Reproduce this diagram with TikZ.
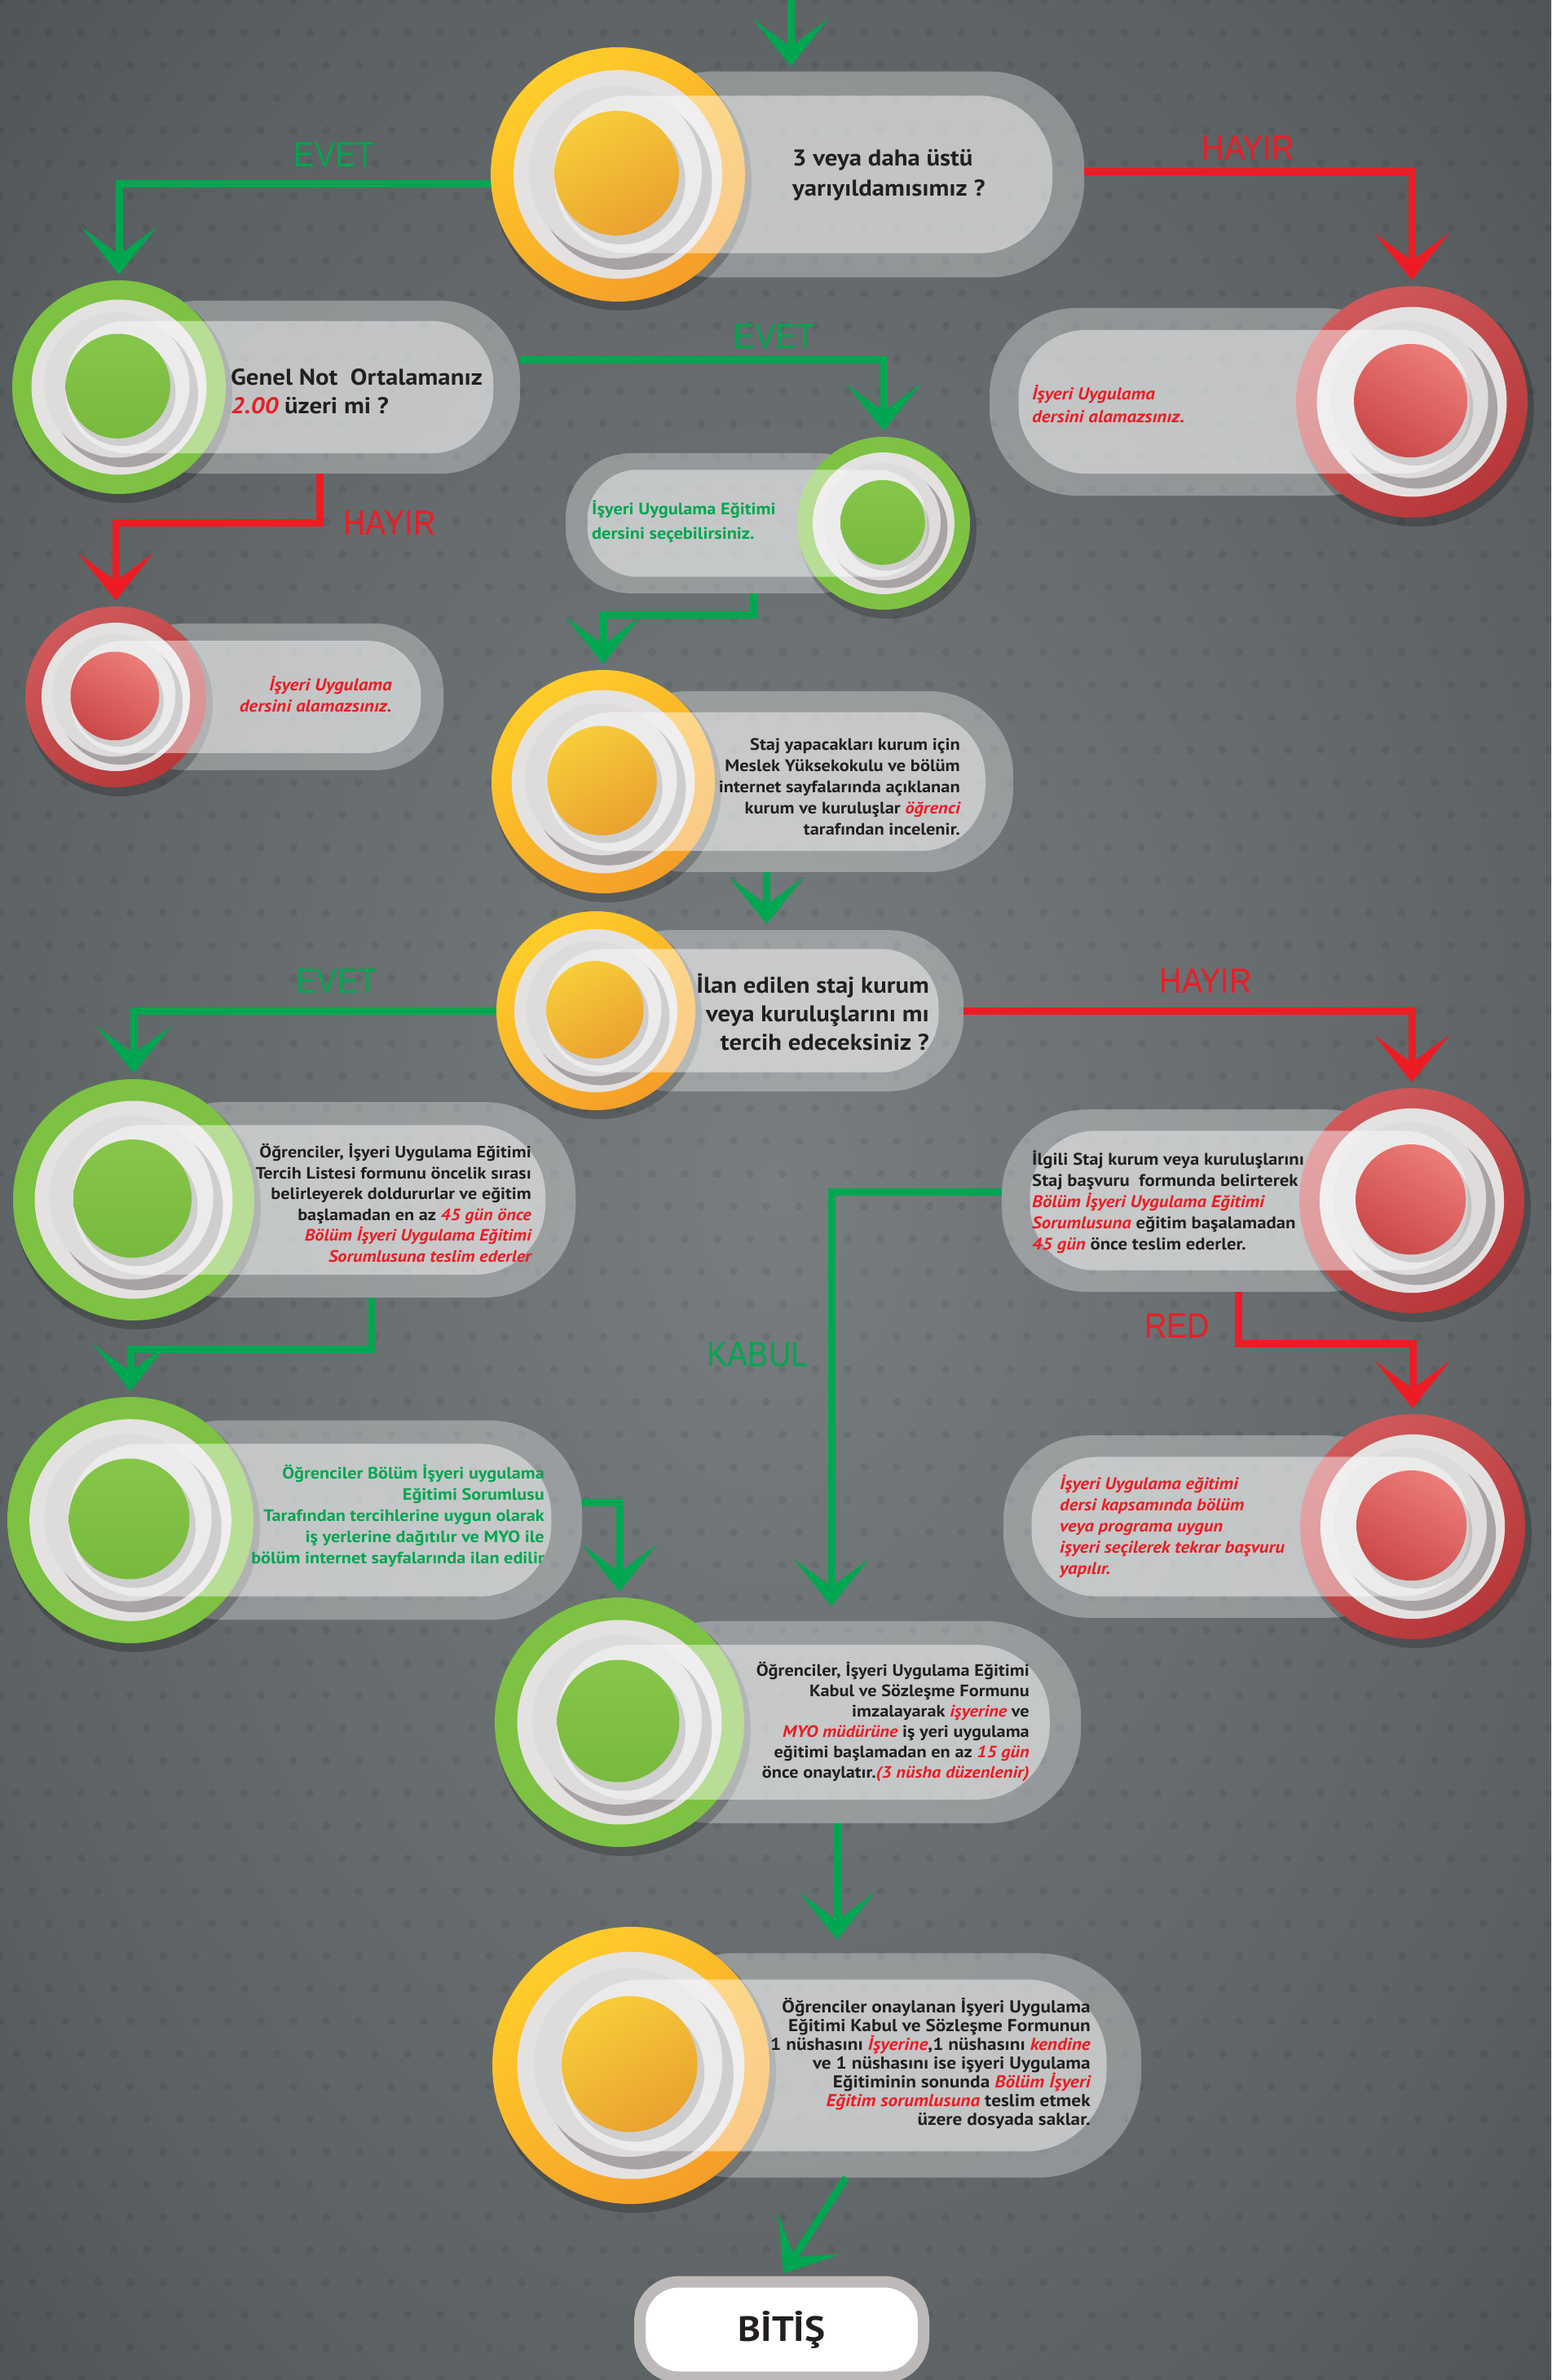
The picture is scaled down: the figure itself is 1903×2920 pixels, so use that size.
\documentclass[tikz,border=0pt]{standalone}
\usepackage{fontspec}
\setmainfont{PT Sans}[FakeStretch=1.1]
\newfontfamily\etiketfont[FakeStretch=0.88]{Liberation Sans}
\usetikzlibrary{arrows.meta}

\definecolor{cArka1}{RGB}{120,126,128}
\definecolor{cArka2}{RGB}{56,61,63}
\definecolor{cYesil}{RGB}{0,166,81}
\definecolor{cKirmizi}{RGB}{237,28,36}
\definecolor{cMetin}{RGB}{35,31,32}
\definecolor{cSari1}{RGB}{255,205,42}
\definecolor{cSari2}{RGB}{245,158,40}
\definecolor{cYesilH}{RGB}{125,194,66}
\definecolor{cKirmiziH}{RGB}{198,60,62}
\definecolor{cSariD}{RGB}{248,204,58}
\definecolor{cSariD2}{RGB}{233,162,46}
\definecolor{cYesilD}{RGB}{134,198,74}
\definecolor{cYesilD2}{RGB}{120,186,62}
\definecolor{cKirmiziD}{RGB}{236,124,120}
\definecolor{cKirmiziD2}{RGB}{202,72,72}
\definecolor{cBeyaz}{RGB}{228,225,225}
\definecolor{cBeyaz2}{RGB}{222,219,219}
\definecolor{cGolge}{RGB}{168,164,164}
\definecolor{cGri}{RGB}{190,185,185}

\pgfdeclareradialshading{zemin}{\pgfpoint{0bp}{0bp}}{color(0bp)=(cArka1); color(28bp)=(cArka1!55!cArka2); color(50bp)=(cArka2)}

\newcommand\kir[1]{{\color{cKirmizi}\itshape #1}}
\newcommand\yazi[2]{\fontsize{#1}{#2}\selectfont\bfseries}

% #1 ad, #2 x, #3 y, #4 yaricap, #5 kutunun ucu, #6 renk
\newcommand\dugme[6]{%
  \pgfmathsetmacro\kx{(#2+#5)/2}%
  \pgfmathsetmacro\kw{abs(#5-#2)}%
  \pgfmathsetmacro\kh{1.62*#4}%
  \pgfmathsetmacro\kr{0.75*#4}%
  \pgfmathsetmacro\ir{0.58*#4}%
  \pgfmathsetmacro\yon{sign(#5-#2)}%
  \node[kutu, minimum width=\kw pt, minimum height=\kh pt, rounded corners=\kr pt] (k#1) at (\kx,#3) {};
  \fill[black, opacity=.22] (#2+5,#3+8) circle (#4+3);
  \node[circle, inner sep=0, minimum size=2*#4, #6 halka] (d#1) at (#2,#3) {};
  \fill[cBeyaz] (d#1) circle (0.82*#4);
  \fill[cGolge] (#2+0.05*#4,#3+0.06*#4) circle (0.69*#4);
  \fill[cBeyaz2] (#2-0.02*#4,#3-0.02*#4) circle (0.68*#4);
  \fill[white, opacity=.45, rounded corners=\ir pt] (#2-\yon*0.5*#4,#3-0.62*#4) rectangle (#5-\yon*0.25*#4,#3+0.62*#4);
  \fill[black, opacity=.12] (#2+0.03*#4,#3+0.05*#4) circle (0.5*#4);
  \shade[#6 disk] (#2-0.01*#4,#3-0.01*#4) circle (0.49*#4);
}

\begin{document}
\begin{tikzpicture}[x=1pt,y=-1pt,
  kutu/.style={fill=white, opacity=.3, inner sep=0},
  sari halka/.style={top color=cSari1, bottom color=cSari2, shading angle=35},
  yesil halka/.style={fill=cYesilH},
  kirmizi halka/.style={top color=cKirmiziH!85!white, bottom color=cKirmiziH!92!black, shading angle=35},
  sari disk/.style={top color=cSariD, bottom color=cSariD2, shading angle=30},
  yesil disk/.style={top color=cYesilD, bottom color=cYesilD2},
  kirmizi disk/.style={top color=cKirmiziD, bottom color=cKirmiziD2, shading angle=-30},
  ok/.style={line width=9pt, -{Stealth[length=58pt,width=92pt,inset=34pt]}, shorten >=7pt},
  yesil ok/.style={ok, draw=cYesil},
  kirmizi ok/.style={ok, draw=cKirmizi},
  etiket/.style={font=\etiketfont\fontsize{43}{50}\selectfont, inner sep=0},
  metin/.style={text=cMetin, inner sep=0},
  bitis/.style={fill=white, draw=cGri, line width=14pt, rounded corners=48pt,
    minimum width=348pt, minimum height=117pt, text=cMetin, font=\yazi{43}{50}}]

\clip (0,0) rectangle (1903,2920);
\shade[shading=zemin] (0,0) rectangle (1903,2920);
\foreach \i in {0,...,48} {
  \foreach \j in {0,...,73} {
    \fill[black, opacity=.07] ({\i*40+mod(\j,2)*20},{\j*40}) circle (5);
  }
}

% dugmeler
\dugme{1}{758}{214}{156}{1330}{sari}
\dugme{2}{146}{475}{131}{638}{yesil}
\dugme{3}{1084}{642}{106}{694}{yesil}
\dugme{4}{1732}{493}{142}{1214}{kirmizi}
\dugme{5}{142}{855}{111}{544}{kirmizi}
\dugme{6}{740}{959}{137}{1243}{sari}
\dugme{7}{731}{1240}{122}{1182}{sari}
\dugme{8}{164}{1472}{148}{706}{yesil}
\dugme{9}{1732}{1473}{138}{1229}{kirmizi}
\dugme{10}{160}{1865}{151}{714}{yesil}
\dugme{11}{1733}{1873}{138}{1231}{kirmizi}
\dugme{12}{760}{2113}{153}{1326}{yesil}
\dugme{13}{774}{2534}{170}{1400}{sari}
\node[bitis] (son) at (959,2858) {BİTİŞ};

% oklar
\coordinate (giris) at (970,0);
\draw[yesil ok, shorten >=6pt] (giris) -- (giris |- k1.north);
\draw[yesil ok] ([yshift=-11pt]d1.west) -| node[etiket, text=cYesil, pos=.21, above=16pt] {EVET} (d2.north);
\draw[kirmizi ok] ([yshift=4pt]k1.east) -| node[etiket, text=cKirmizi, pos=.25, above=9pt] {HAYIR} (d4.north);
\draw[yesil ok] ([yshift=34pt]k2.east) -| node[etiket, text=cYesil, pos=.35, above=9pt] {EVET} (d3.north);
\draw[kirmizi ok] (k2.south) -- ++(0,60) node[etiket, text=cKirmizi, anchor=west, xshift=25pt] {HAYIR} -| (d5.north);
\draw[yesil ok] ([xshift=35pt]k3.south) -- ++(0,26) -| (d6.north);
\coordinate (c6) at ([xshift=-51pt]k6.south);
\draw[yesil ok] (c6) -- (c6 |- k7.north);
\draw[yesil ok] (d7.west) -| node[etiket, text=cYesil, pos=.22, above=17pt] {EVET} (d8.north);
\draw[kirmizi ok] (k7.east) -| node[etiket, text=cKirmizi, pos=.27, above=17pt] {HAYIR} (d9.north);
\draw[yesil ok] ([xshift=21pt]k8.south) -- ++(0,63) -| (d10.north);
\draw[kirmizi ok] ([xshift=39pt]k9.south) -- ++(0,63) node[etiket, text=cKirmizi, anchor=south east, xshift=-31pt, yshift=2pt] {RED} -| (d11.north);
\draw[yesil ok, shorten >=18pt] ([yshift=11pt]k9.west) -| node[etiket, text=cYesil, pos=.69, anchor=east, xshift=-24pt] {KABUL} ([xshift=-23pt]k12.north);
\draw[yesil ok] ([yshift=22pt]k10.east) -| (d12.north);
\coordinate (c12) at ([xshift=-16pt]k12.south);
\draw[yesil ok, shorten >=16pt] (c12) -- (c12 |- k13.north);
\draw[yesil ok, shorten >=4pt] ([xshift=-49pt]k13.south) -- (son.north);

% metinler
\node[metin, anchor=west, align=left, font=\yazi{28}{37}] (t1) at (972,215) {3 veya daha üstü\\yarıyıldamısımız ?};
\node[metin, anchor=west, align=left, font=\yazi{28}{35}] (t2) at (283,480) {Genel Not~ Ortalamanız\\\kir{2.00} üzeri mi ?};
\node[metin, text=cYesil, anchor=west, align=left, font=\yazi{20.3}{30}] (t3) at (726,640) {İşyeri Uygulama Eğitimi\\dersini seçebilirsiniz.};
\node[metin, text=cKirmizi, anchor=west, align=left, font=\yazi{21}{28}\itshape] (t4) at (1266,496) {İşyeri Uygulama\\dersini alamazsınız.};
\node[metin, text=cKirmizi, anchor=east, align=right, font=\yazi{21}{26}\itshape] (t5) at (481,852) {İşyeri Uygulama\\dersini alamazsınız.};
\node[metin, anchor=east, align=right, font=\yazi{20.4}{26}] (t6) at (1178,965) {Staj yapacakları kurum için\\Meslek Yüksekokulu ve bölüm\\internet sayfalarında açıklanan\\kurum ve kuruluşlar \kir{öğrenci}\\tarafından incelenir.};
\node[metin, anchor=east, align=right, font=\yazi{27.9}{35}] (t7) at (1140,1242) {İlan edilen staj kurum\\veya kuruluşlarını mı\\tercih edeceksiniz ?};
\node[metin, anchor=east, align=right, font=\yazi{20.2}{25.6}] (t8) at (652,1476) {Öğrenciler, İşyeri Uygulama Eğitimi\\Tercih Listesi formunu öncelik sırası\\belirleyerek doldururlar ve eğitim\\başlamadan en az \kir{45 gün önce}\\\kir{Bölüm İşyeri Uygulama Eğitimi}\\\kir{Sorumlusuna teslim ederler}};
\node[metin, anchor=west, align=left, font=\yazi{20.7}{26}] (t9) at (1266,1475) {İlgili Staj kurum veya kuruluşlarını\\Staj başvuru~ formunda belirterek\\\kir{Bölüm İşyeri Uygulama Eğitimi}\\\kir{Sorumlusuna} eğitim başalamadan\\\kir{45 gün} önce teslim ederler.};
\node[metin, text=cYesil, anchor=east, align=right, font=\yazi{20.2}{26}] (t10) at (668,1860) {Öğrenciler Bölüm İşyeri uygulama\\Eğitimi Sorumlusu\\Tarafından tercihlerine uygun olarak\\iş yerlerine dağıtılır ve MYO ile\\bölüm internet sayfalarında ilan edilir};
\node[metin, text=cKirmizi, anchor=west, align=left, font=\yazi{20.7}{26}\itshape] (t11) at (1300,1873) {İşyeri Uygulama eğitimi\\dersi kapsamında bölüm\\veya programa uygun\\işyeri seçilerek tekrar başvuru\\yapılır.};
\node[metin, anchor=east, align=right, font=\yazi{20.3}{25}] (t12) at (1263,2112) {Öğrenciler, İşyeri Uygulama Eğitimi\\Kabul ve Sözleşme Formunu\\imzalayarak \kir{işyerine} ve\\\kir{MYO müdürüne} iş yeri uygulama\\eğitimi başlamadan en az \kir{15 gün}\\önce onaylatır.\kir{(3 nüsha düzenlenir)}};
\node[metin, anchor=east, align=right, font=\yazi{21.2}{23}] (t13) at (1338,2532) {Öğrenciler onaylanan İşyeri Uygulama\\Eğitimi Kabul ve Sözleşme Formunun\\1 nüshasını \kir{İşyerine},1 nüshasını \kir{kendine}\\ve 1 nüshasını ise işyeri Uygulama\\Eğitiminin sonunda \kir{Bölüm İşyeri}\\\kir{Eğitim sorumlusuna} teslim etmek\\üzere dosyada saklar.};
\end{tikzpicture}
\end{document}
